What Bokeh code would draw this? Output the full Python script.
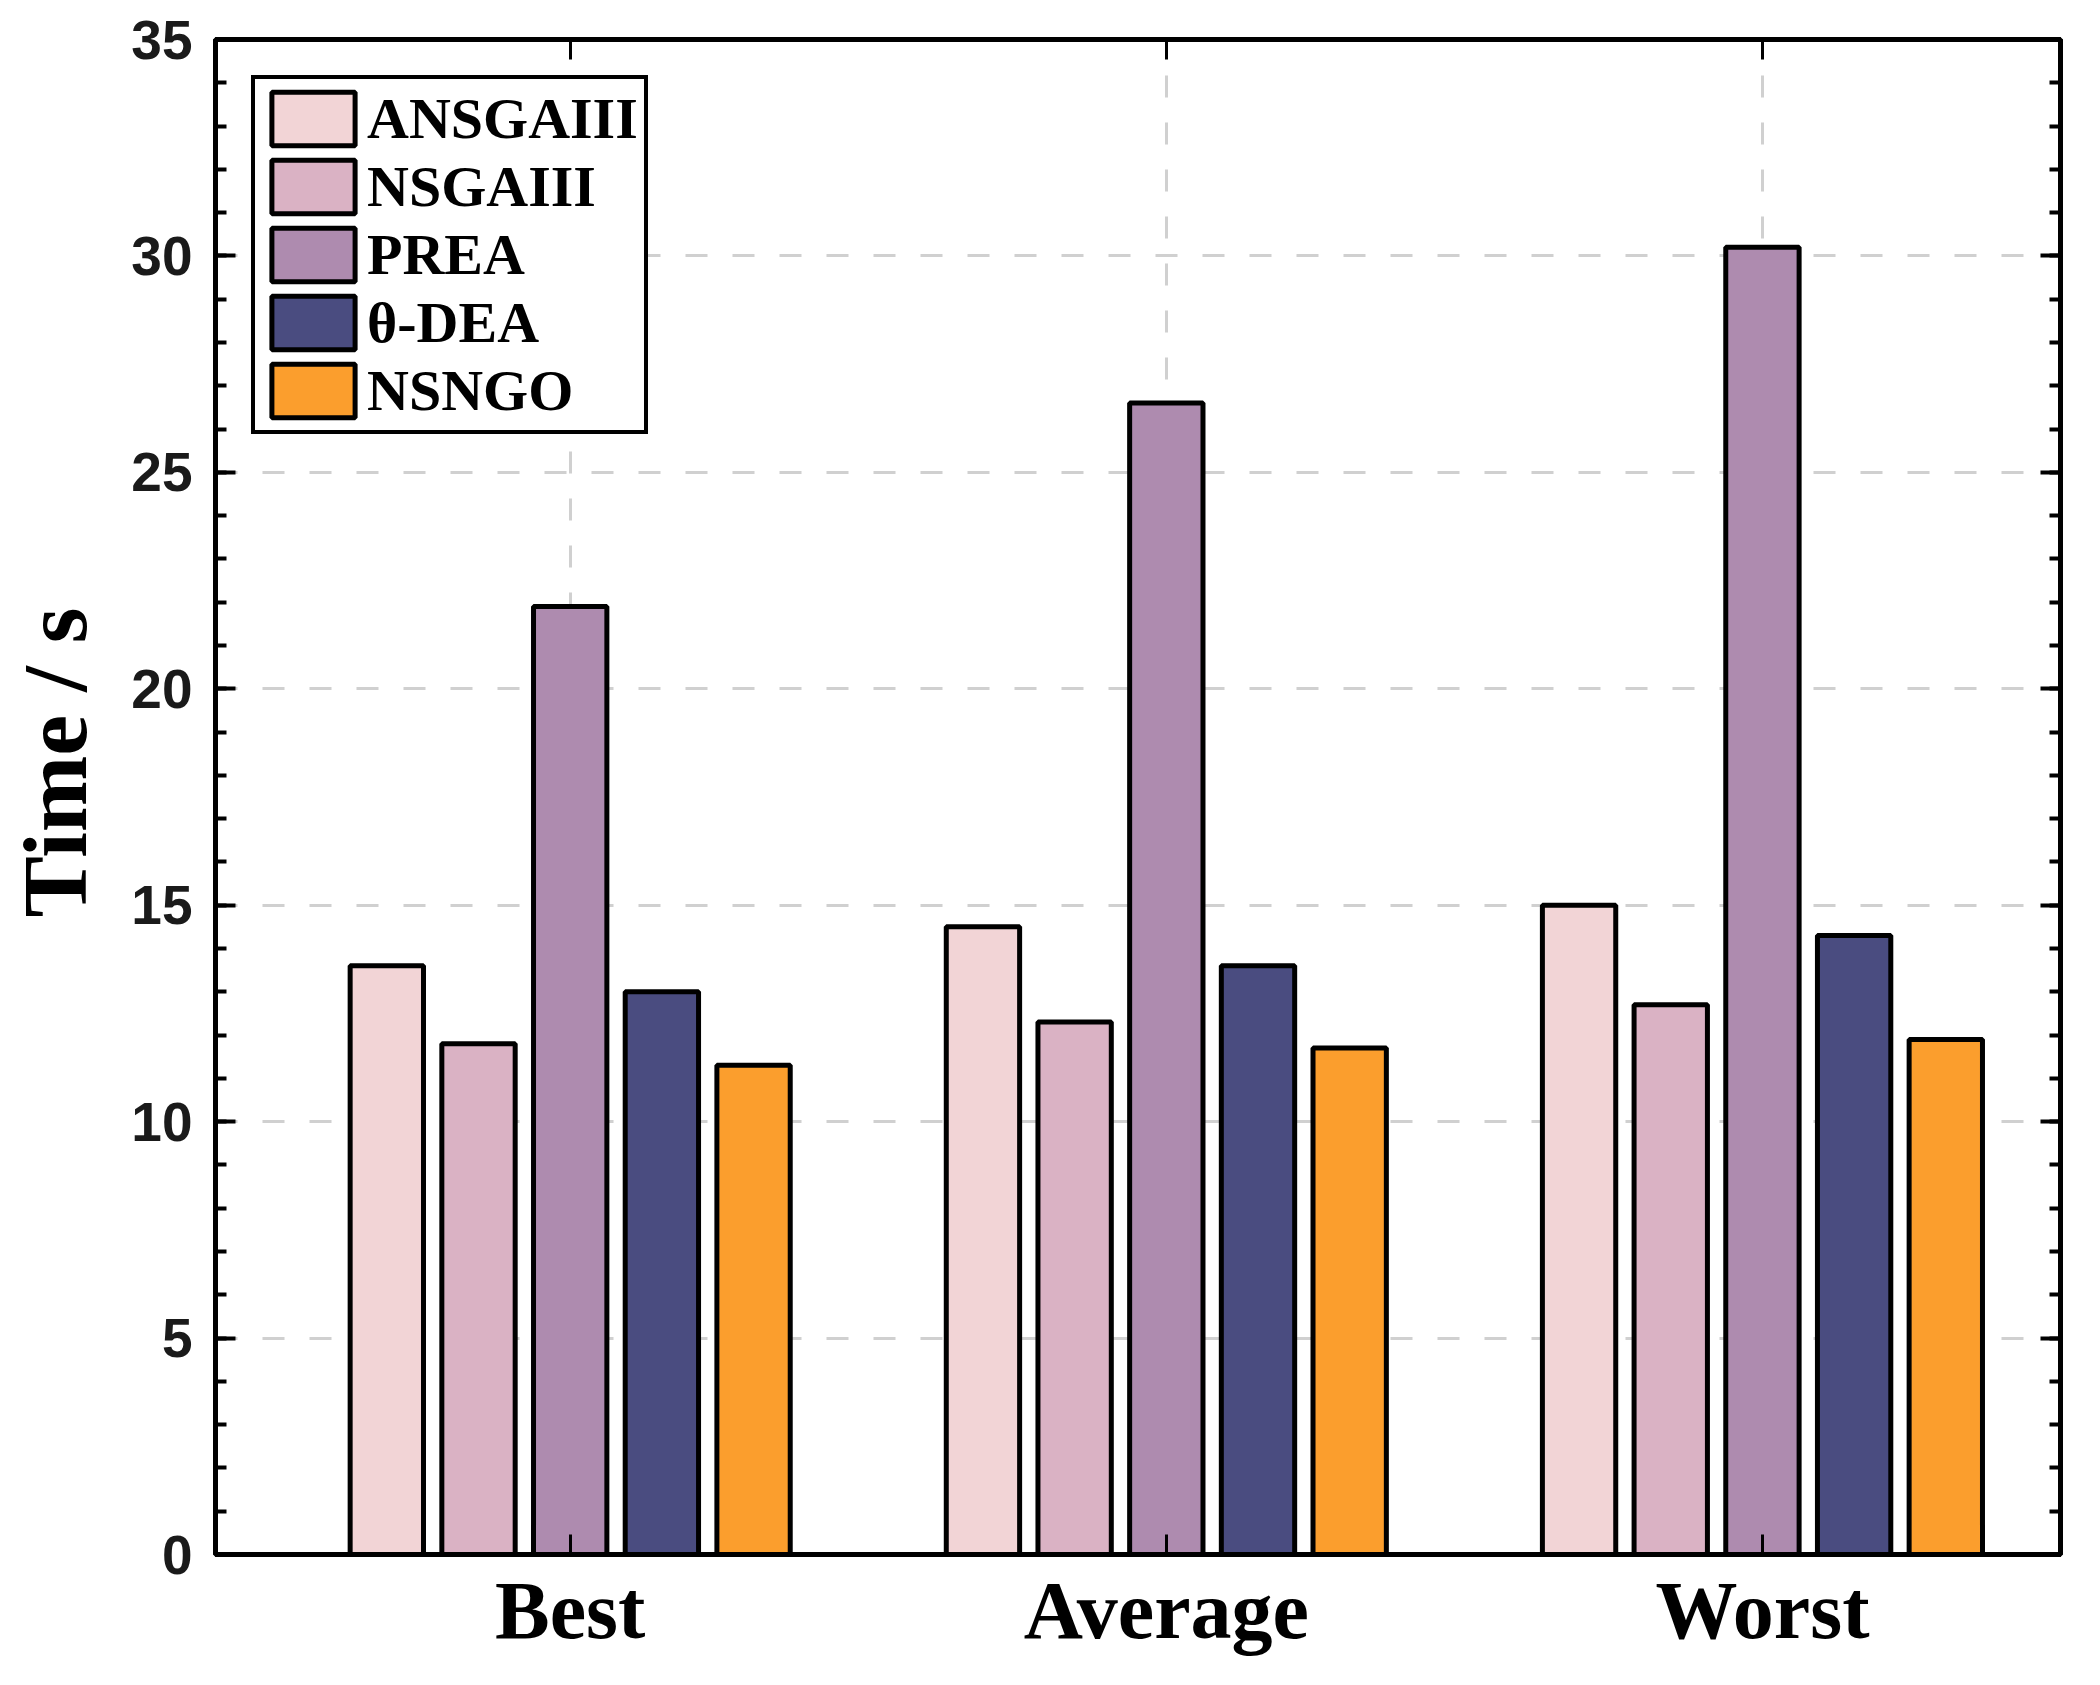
from bokeh.plotting import figure
from bokeh.models import ColumnDataSource, FixedTicker, LinearAxis, Range1d
from bokeh.transform import dodge
from bokeh.embed import file_html
from bokeh.resources import INLINE

categories = ["Best", "Average", "Worst"]
group_pos = [1, 2, 3]
algorithms = ["ANSGAIII", "NSGAIII", "PREA", "θ-DEA", "NSNGO"]
ansgaiii = [13.6, 14.5, 15.0]
nsgaiii = [11.8, 12.3, 12.7]
prea = [21.9, 26.6, 30.2]
theta_dea = [13.0, 13.6, 14.3]
nsngo = [11.3, 11.7, 11.9]
colors = ["#F2D4D6", "#DAB2C4", "#AE8BAF", "#4A4C80", "#FB9E2D"]
y_ticks = [0, 5, 10, 15, 20, 25, 30, 35]
y_minor = list(range(0, 36))

series = [ansgaiii, nsgaiii, prea, theta_dea, nsngo]
keys = ["s0", "s1", "s2", "s3", "s4"]
data = {"x": group_pos}
for k, s in zip(keys, series):
    data[k] = s
source = ColumnDataSource(data)

p = figure(width=2084, height=1669, output_backend="svg", toolbar_location=None,
           x_range=Range1d(0.405, 3.5), y_range=Range1d(0, 35),
           min_border_left=215, min_border_right=24, min_border_top=39,
           min_border_bottom=115, background_fill_color="white")

step = 0.769 / 5
bw = step * 0.8
for i, (k, name, c) in enumerate(zip(keys, algorithms, colors)):
    off = (i - 2) * step
    p.vbar(x=dodge("x", off), top=k, bottom=0, width=bw, source=source,
           fill_color=c, line_color="black", line_width=5, legend_label=name)

# grids
p.xgrid.ticker = FixedTicker(ticks=group_pos)
p.ygrid.ticker = FixedTicker(ticks=y_ticks)
for g in (p.xgrid[0], p.ygrid[0]):
    g.grid_line_color = "#D0D0D0"
    g.grid_line_width = 3
    g.grid_line_dash = "22 25"

p.outline_line_color = "black"
p.outline_line_width = 5

sans = "Liberation Sans"
serif = "Liberation Serif"

# bottom axis
xa = p.xaxis[0]
xa.ticker = FixedTicker(ticks=group_pos)
xa.major_label_overrides = {pos: cat for pos, cat in zip(group_pos, categories)}
xa.major_label_text_font = serif
xa.major_label_text_font_style = "bold"
xa.major_label_text_font_size = "82px"
xa.major_label_text_color = "black"
xa.major_label_standoff = 10
xa.major_tick_in = 20
xa.major_tick_out = 0
xa.minor_tick_line_color = None
xa.axis_line_width = 5
xa.major_tick_line_width = 3

# left axis
ya = p.yaxis[0]
ya.ticker = FixedTicker(ticks=y_ticks, minor_ticks=y_minor)
ya.major_label_text_font = sans
ya.major_label_text_font_style = "bold"
ya.major_label_text_font_size = "55px"
ya.major_label_text_color = "#1a1a1a"
ya.major_label_standoff = 23
ya.major_tick_in = 20
ya.major_tick_out = 0
ya.minor_tick_in = 11
ya.minor_tick_out = 0
ya.major_tick_line_width = 4
ya.minor_tick_line_width = 4
ya.axis_line_width = 5
ya.axis_label = "\u00a0\u00a0\u00a0Time / s"
ya.axis_label_text_font = serif
ya.axis_label_text_font_style = "bold"
ya.axis_label_text_font_size = "92px"
ya.axis_label_text_color = "black"
ya.axis_label_standoff = 22

# right axis
ra = LinearAxis(ticker=FixedTicker(ticks=y_ticks, minor_ticks=y_minor))
ra.major_label_text_color = None
ra.major_label_text_font_size = "1px"
ra.major_label_standoff = 0
ra.major_tick_in = 20
ra.major_tick_out = 0
ra.minor_tick_in = 11
ra.minor_tick_out = 0
ra.major_tick_line_width = 4
ra.minor_tick_line_width = 4
ra.axis_line_width = 5
p.add_layout(ra, "right")

# top axis
ta = LinearAxis(ticker=FixedTicker(ticks=group_pos))
ta.major_label_text_color = None
ta.major_label_text_font_size = "1px"
ta.major_label_standoff = 0
ta.major_tick_in = 20
ta.major_tick_out = 0
ta.minor_tick_line_color = None
ta.major_tick_line_width = 3
ta.axis_line_width = 5
p.add_layout(ta, "above")

# legend
lg = p.legend[0]
lg.location = "top_left"
lg.margin = 36
lg.padding = 6
lg.spacing = 1
lg.glyph_width = 104
lg.glyph_height = 67
lg.label_height = 67
lg.label_standoff = 2
lg.label_text_font = serif
lg.label_text_font_style = "bold"
lg.label_text_font_size = "58px"
lg.label_text_color = "black"
lg.border_line_color = "black"
lg.border_line_alpha = 1.0
lg.border_line_width = 4
lg.background_fill_color = "white"
lg.background_fill_alpha = 1.0

open("out.html", "w").write(file_html(p, INLINE))
